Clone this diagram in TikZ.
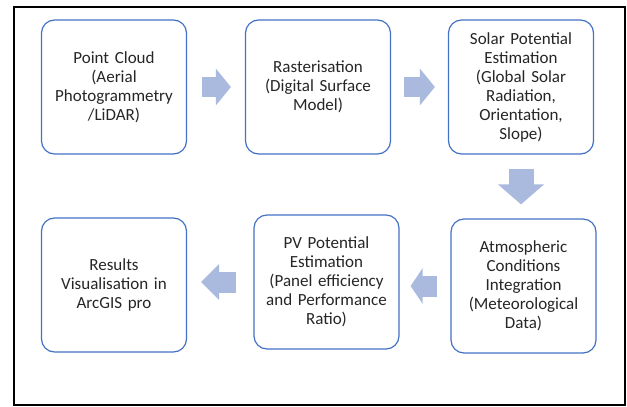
\documentclass[tikz,border=0pt]{standalone}
\usepackage{fontspec}
\setmainfont{Carlito}
\usepackage{tikz}
\usetikzlibrary{arrows.meta}

\definecolor{boxblue}{RGB}{68,114,196}
\definecolor{arrowblue}{RGB}{170,185,222}
\definecolor{textgray}{RGB}{38,38,38}

\begin{document}
\begin{tikzpicture}[x=1pt, y=-1pt,
    stage/.style={draw=boxblue, line width=1.2pt, rounded corners=13pt, fill=white,
        minimum width=145pt, minimum height=134pt, text width=140pt, align=center,
        text=textgray, font=\fontsize{17}{19}\selectfont, inner sep=0pt},
    flow/.style={draw=arrowblue, line width=20pt,
        -{Triangle[length=15pt, width=36pt, fill=arrowblue]}}]
                    \useasboundingbox (0,0) rectangle (627,407);
                    \draw[line width=1.4pt] (14,7) rectangle (625,405);
                    \node[stage] (cloud) at (114, 87) {Point Cloud\\(Aerial\\Photogrammetry\\/LiDAR)};
                    \node[stage] (raster) at (318, 87) {Rasterisation\\(Digital Surface\\Model)};
                    \node[stage] (solar) at (521, 87) {Solar Potential\\Estimation\\(Global Solar\\Radiation,\\Orientation,\\Slope)};
                    \node[stage] (atmos) at (523.5, 286) {Atmospheric\\Conditions\\Integration\\(Meteorological\\Data)};
                    \node[stage] (pv) at (326.5, 282) {PV Potential\\Estimation\\(Panel efficiency\\and Performance\\Ratio)};
                    \node[stage] (results) at (114, 285) {Results\\Visualisation in\\ArcGIS pro};
                    \draw[flow, shorten <=15pt, shorten >=14pt] (cloud.east) -- (raster.west);
                    \draw[flow, shorten <=13pt, shorten >=13pt] (raster.east) -- (solar.west);
                    \draw[flow, line width=25pt, -{Triangle[length=20pt, width=45pt, fill=arrowblue]}, shorten <=14pt, shorten >=14pt] (solar.south) -- (solar.south |- atmos.north);
                    \draw[flow, line width=21pt, -{Triangle[length=12pt, width=35pt, fill=arrowblue]}, shorten <=13pt, shorten >=11pt] (atmos.west) -- (atmos.west -| pv.east);
                    \draw[flow, line width=21pt, -{Triangle[length=18pt, width=35pt, fill=arrowblue]}, shorten <=17pt, shorten >=14pt] (pv.west) -- (pv.west -| results.east);
                \end{tikzpicture}
\end{document}
